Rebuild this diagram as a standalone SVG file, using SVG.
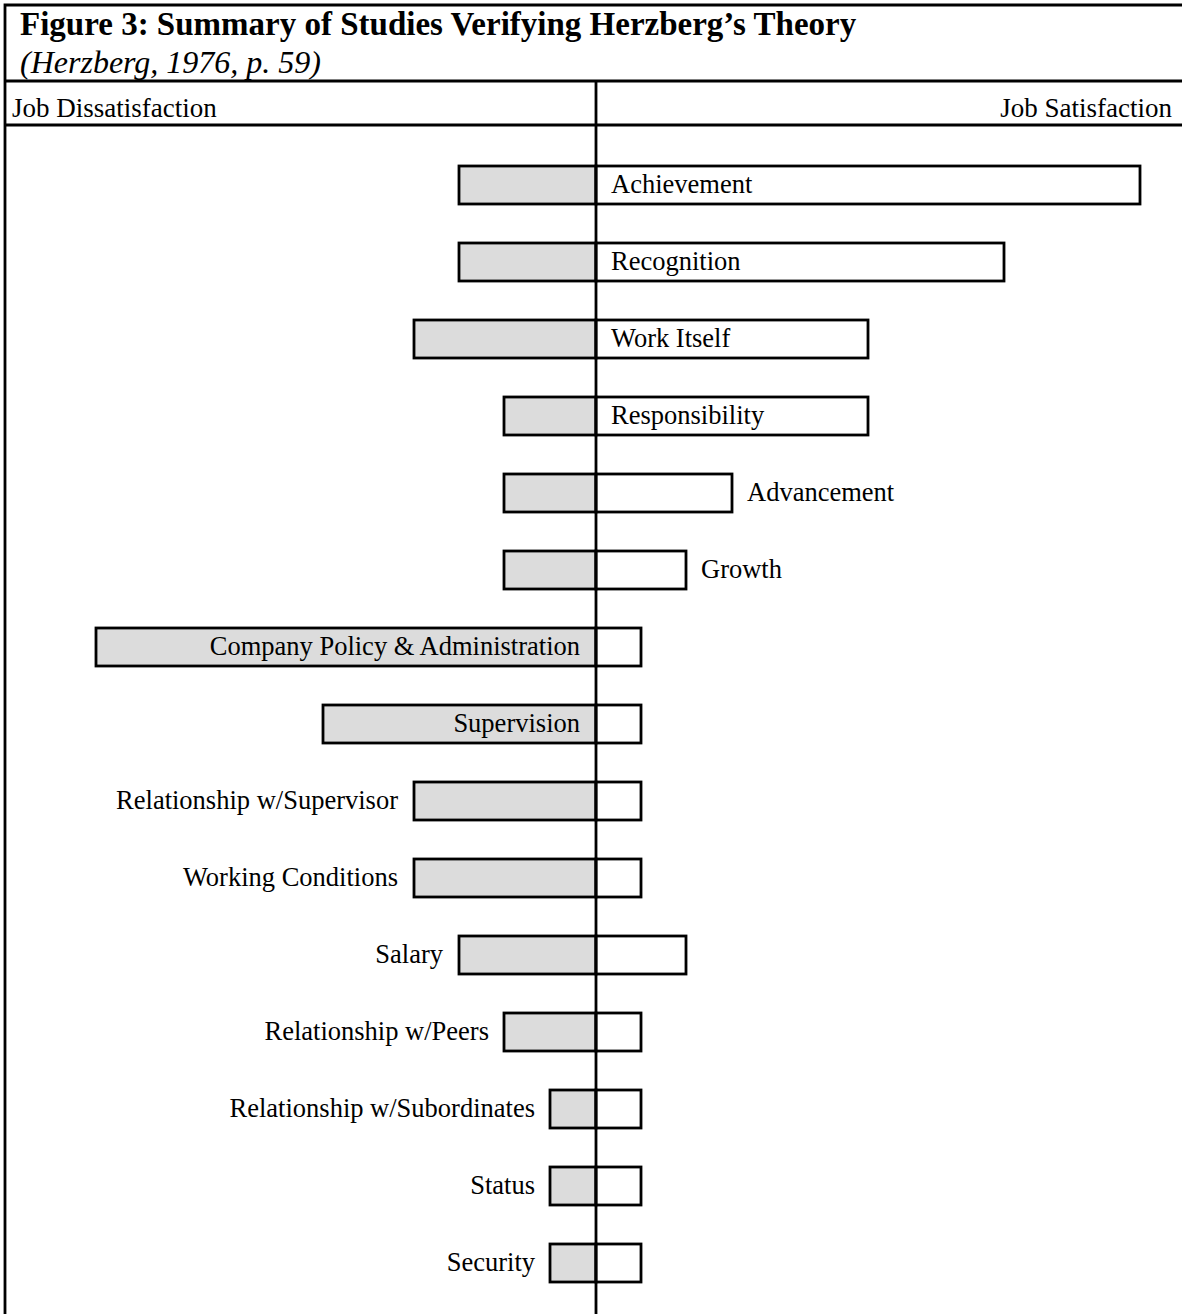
<svg xmlns="http://www.w3.org/2000/svg" width="1182" height="1314" viewBox="0 0 1182 1314">
<style>
text{font-family:"Liberation Serif","Times New Roman",serif;fill:#000}
.t{font-size:33px;font-weight:bold}
.s{font-size:32px;font-style:italic}
.h{font-size:27px}
.b{font-size:26.5px}
.e{text-anchor:end}
.neg{fill:#dcdcdc;stroke:#000;stroke-width:2.8}
.pos{fill:#fff;stroke:#000;stroke-width:2.8}
.ln{stroke:#000;stroke-width:2.8;fill:none}
</style>
<rect width="1182" height="1314" fill="#fff"/>
<g id="frame">
<path class="ln" d="M5,1314 V5 H1182"/>
<line class="ln" x1="5" y1="81" x2="1182" y2="81"/>
<line class="ln" x1="5" y1="125" x2="1182" y2="125"/>
<text class="t" x="20" y="35">Figure 3: Summary of Studies Verifying Herzberg’s Theory</text>
<text class="s" x="20" y="73">(Herzberg, 1976, p. 59)</text>
<text class="h" x="12" y="117">Job Dissatisfaction</text>
<text class="h e" x="1172" y="117">Job Satisfaction</text>
</g>
<g id="achievement"><rect class="neg" x="459" y="166" width="137" height="38"/><rect class="pos" x="596" y="166" width="544" height="38"/><text class="b" x="611" y="193">Achievement</text></g>
<g id="recognition"><rect class="neg" x="459" y="243" width="137" height="38"/><rect class="pos" x="596" y="243" width="408" height="38"/><text class="b" x="611" y="270">Recognition</text></g>
<g id="work-itself"><rect class="neg" x="414" y="320" width="182" height="38"/><rect class="pos" x="596" y="320" width="272" height="38"/><text class="b" x="611" y="347">Work Itself</text></g>
<g id="responsibility"><rect class="neg" x="504" y="397" width="92" height="38"/><rect class="pos" x="596" y="397" width="272" height="38"/><text class="b" x="611" y="424">Responsibility</text></g>
<g id="advancement"><rect class="neg" x="504" y="474" width="92" height="38"/><rect class="pos" x="596" y="474" width="136" height="38"/><text class="b" x="747" y="501">Advancement</text></g>
<g id="growth"><rect class="neg" x="504" y="551" width="92" height="38"/><rect class="pos" x="596" y="551" width="90" height="38"/><text class="b" x="701" y="578">Growth</text></g>
<g id="company-policy"><rect class="neg" x="96" y="628" width="500" height="38"/><rect class="pos" x="596" y="628" width="45" height="38"/><text class="b e" x="580" y="655">Company Policy &amp; Administration</text></g>
<g id="supervision"><rect class="neg" x="323" y="705" width="273" height="38"/><rect class="pos" x="596" y="705" width="45" height="38"/><text class="b e" x="580" y="732">Supervision</text></g>
<g id="rel-supervisor"><rect class="neg" x="414" y="782" width="182" height="38"/><rect class="pos" x="596" y="782" width="45" height="38"/><text class="b e" x="398" y="809">Relationship w/Supervisor</text></g>
<g id="working-conditions"><rect class="neg" x="414" y="859" width="182" height="38"/><rect class="pos" x="596" y="859" width="45" height="38"/><text class="b e" x="398" y="886">Working Conditions</text></g>
<g id="salary"><rect class="neg" x="459" y="936" width="137" height="38"/><rect class="pos" x="596" y="936" width="90" height="38"/><text class="b e" x="443" y="963">Salary</text></g>
<g id="rel-peers"><rect class="neg" x="504" y="1013" width="92" height="38"/><rect class="pos" x="596" y="1013" width="45" height="38"/><text class="b e" x="489" y="1040">Relationship w/Peers</text></g>
<g id="rel-subordinates"><rect class="neg" x="550" y="1090" width="46" height="38"/><rect class="pos" x="596" y="1090" width="45" height="38"/><text class="b e" x="535" y="1117">Relationship w/Subordinates</text></g>
<g id="status"><rect class="neg" x="550" y="1167" width="46" height="38"/><rect class="pos" x="596" y="1167" width="45" height="38"/><text class="b e" x="535" y="1194">Status</text></g>
<g id="security"><rect class="neg" x="550" y="1244" width="46" height="38"/><rect class="pos" x="596" y="1244" width="45" height="38"/><text class="b e" x="535" y="1271">Security</text></g>
<g id="connectors"><line class="ln" x1="596" y1="81" x2="596" y2="1314"/></g>
</svg>
